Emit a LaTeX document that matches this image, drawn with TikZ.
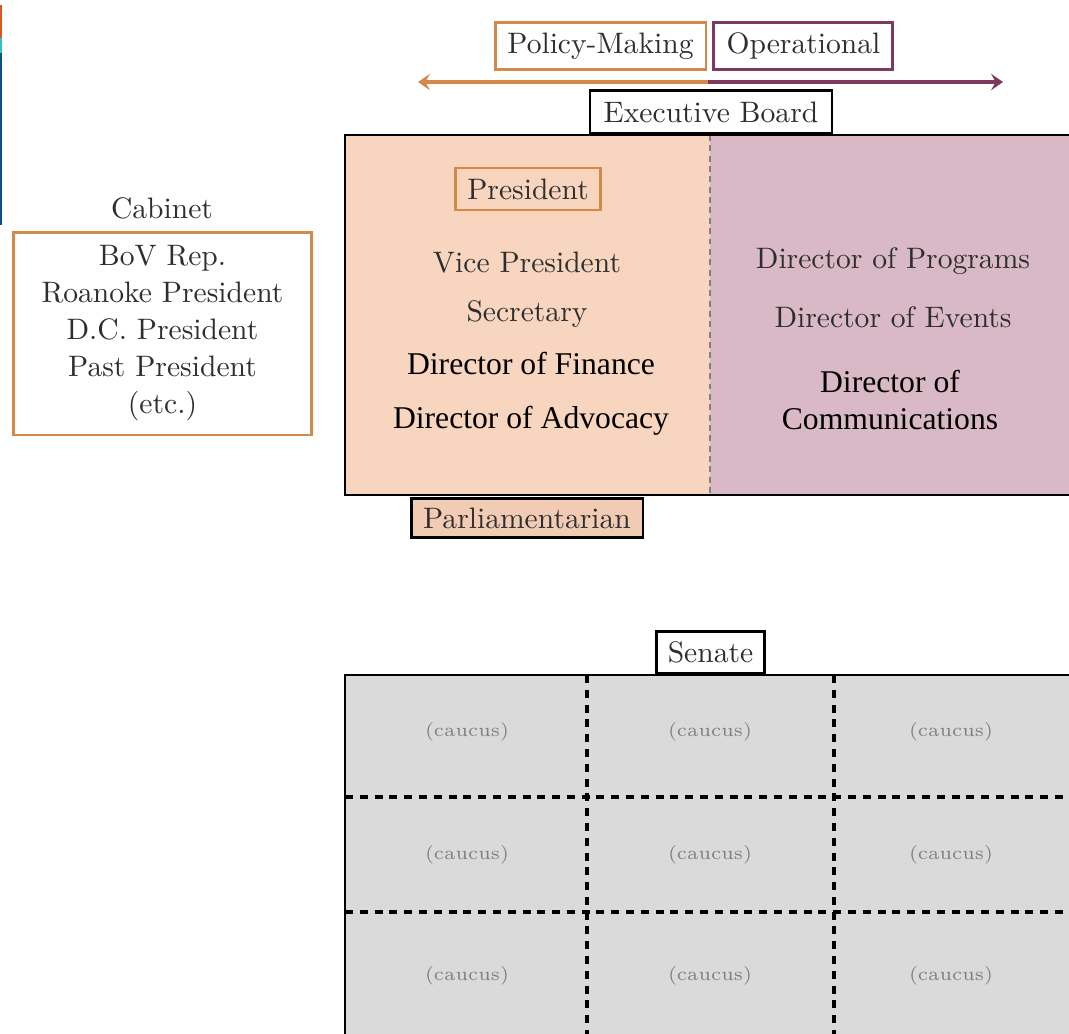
\documentclass[tikz,border=0pt]{standalone}
\usepackage{fontspec}
\usepackage{xcolor}
\newfontfamily\timesfont{Liberation Serif}
\usetikzlibrary{arrows.meta,positioning}
\definecolor{policy}{HTML}{D4894B}
\definecolor{oper}{HTML}{7D3A5C}
\definecolor{peach}{HTML}{F7D5BF}
\definecolor{parlpeach}{HTML}{F2CBB5}
\definecolor{mauve}{HTML}{D9B9C5}
\definecolor{senategray}{HTML}{DADADA}
\definecolor{inkgray}{HTML}{2E2E2E}
\definecolor{stripred}{HTML}{D9581E}
\definecolor{stripcyan}{HTML}{2EC4C4}
\definecolor{stripblue}{HTML}{0D4F8A}
\tikzset{
	tag/.style={draw,line width=1pt,inner sep=0pt,text=inkgray,font=\fontsize{10}{12}\selectfont},
	role/.style={text=inkgray,font=\fontsize{10}{12}\selectfont},
	newrole/.style={text=black,font=\timesfont\fontsize{10.7}{12.6}\selectfont,align=center},
	caucus/.style={text=gray,font=\fontsize{6.3}{7}\selectfont},
	caucusline/.style={line width=1.2pt,dash pattern=on 2.7pt off 2.3pt},
	spread/.style={line width=1.2pt,-{Stealth[length=4pt,width=5.5pt,inset=1.5pt]}}
}

\begin{document}
\begin{tikzpicture}[x=0.338pt,y=-0.338pt]
	\useasboundingbox (0,0) rectangle (1069,1033);
	% strip at the left edge
	\fill[stripred] (0,5) rectangle (2,38);
	\fill[stripcyan] (0,38) rectangle (2,53);
	\fill[stripblue] (0,53) rectangle (2,225);
	% executive board area
	\fill[peach] (345,135) rectangle (710,495);
	\fill[mauve] (710,135) rectangle (1080,495);
	\draw[gray,line width=0.4pt,dash pattern=on 2pt off 1.5pt] (710,135) -- (710,495);
	\draw[line width=1pt] (1080,135) -- (345,135) -- (345,495) -- (1080,495);
	% senate area
	\fill[senategray] (345,675) rectangle (1080,1045);
	\foreach \x in {587,834} \draw[caucusline] (\x,675) -- (\x,1045);
	\foreach \y in {797,912} \draw[caucusline] (345,\y) -- (1080,\y);
	\draw[line width=1pt] (1080,675) -- (345,675) -- (345,1045);
	% policy / operational
	\node[tag,draw=policy,minimum width=71.3pt,minimum height=16.2pt] (policy) at (600.5,46) {Policy-Making};
	\node[tag,draw=oper,minimum width=60.5pt,minimum height=16.2pt,right=1.7pt of policy] (oper) {Operational};
	\coordinate (split) at (708,82);
	\coordinate (polend) at (418,82);
	\coordinate (opend) at (1003,82);
	\draw[spread,policy] (split) -- (polend);
	\draw[spread,oper] (split) -- (opend);
	% executive board
	\node[tag,fill=white,minimum width=81.8pt,minimum height=14.5pt,anchor=south] (board) at (711,135) {Executive Board};
	\node[tag,draw=policy,minimum width=48.7pt,minimum height=14.2pt] (pres) at (528,189) {President};
	\node[role] (vp) at (527,263) {Vice President};
	\node[role] (sec) at (527,314) {Secretary};
	\node[newrole] (fin) at (531,363) {Director of Finance};
	\node[newrole] (adv) at (531,421) {Director of Advocacy};
	\node[role] (prog) at (893,261) {Director of Programs};
	\node[role] (events) at (893,317) {Director of Events};
	\node[newrole] (comms) at (890,400) {Director of\\Communications};
	\node[tag,fill=parlpeach,minimum width=78.4pt,minimum height=13.2pt,anchor=north] (parl) at (527,497) {Parliamentarian};
	% cabinet
	\node[role] (cabinet) at (162,208) {Cabinet};
	\node[role,draw=policy,line width=1pt,align=center,font=\fontsize{10}{12.5}\selectfont,minimum width=101pt,minimum height=68.6pt] (cabbox) at (162.5,333.5) {BoV Rep.\\Roanoke President\\D.C. President\\Past President\\(etc.)};
	% senate
	\node[tag,fill=white,minimum width=36.8pt,minimum height=14.2pt,anchor=south] (senate) at (710.5,675) {Senate};
	\foreach \x in {467,710,951}
		\foreach \y in {732,855,976}
			\node[caucus] (caucus-\x-\y) at (\x,\y) {(caucus)};
\end{tikzpicture}
\end{document}
